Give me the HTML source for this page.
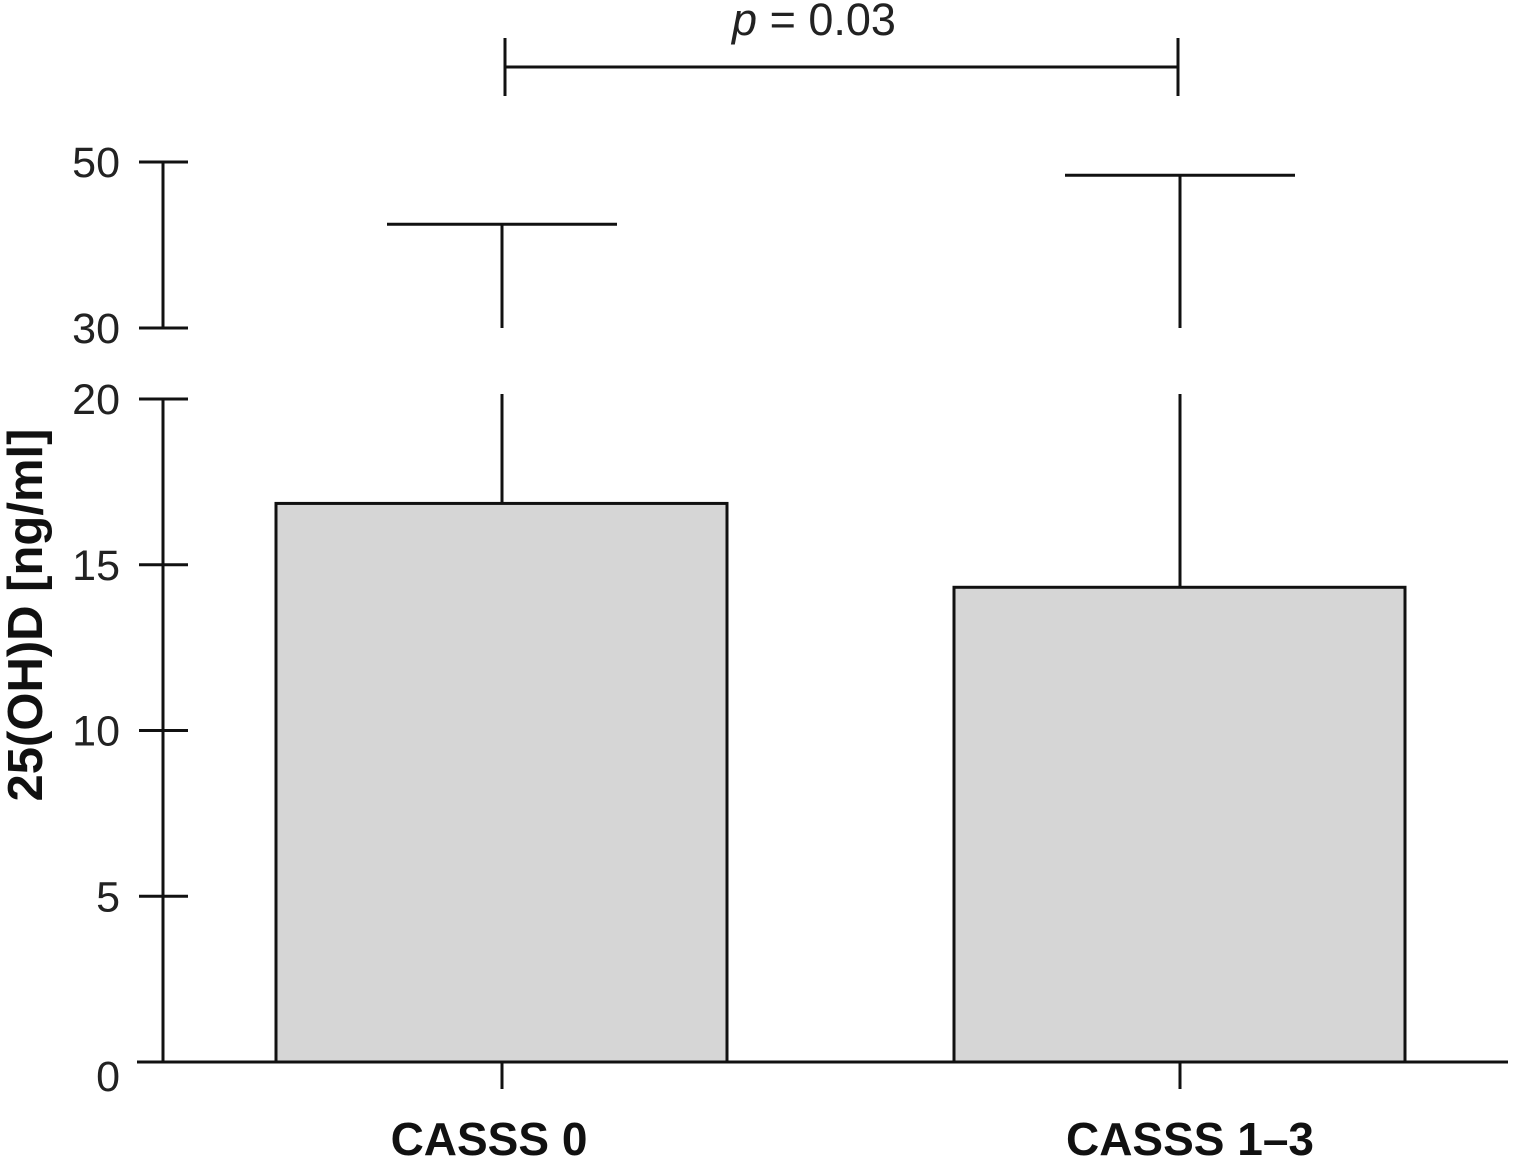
<!DOCTYPE html>
<html><head><meta charset="utf-8"><style>
html,body{margin:0;padding:0;background:#fff;}
svg{display:block;font-family:"Liberation Sans",sans-serif;}
</style></head><body>
<svg id="chart" width="1520" height="1158" viewBox="0 0 1520 1158"></svg>
<script>
const categories = ["CASSS 0", "CASSS 1\u20133"];
const means = [16.85, 14.32];
const upperErr = [42.5, 48.4];
const lowerTicks = [0, 5, 10, 15, 20];
const upperTicks = [30, 50];
const pLabel = "p";
const pValue = " = 0.03";

const NS = "http://www.w3.org/2000/svg";
const svg = document.getElementById('chart');
function yLow(v){ return 1062 - v * (663/20); }
function yHigh(v){ return 328 - (v - 30) * (166/20); }
function xc(i){ return 502 + i * 678; }
function mk(tag, attrs){ const e = document.createElementNS(NS, tag); for (const k in attrs) e.setAttribute(k, attrs[k]); svg.appendChild(e); return e; }
const sw = 3;

let e = mk('line',{x1:163,y1:yLow(0),x2:163,y2:yLow(20),stroke:'#111','stroke-width':sw});


e = mk('line',{x1:163,y1:yHigh(30),x2:163,y2:yHigh(50),stroke:'#111','stroke-width':sw});


e = mk('line',{x1:137,y1:1062,x2:1508,y2:1062,stroke:'#111','stroke-width':sw});



function tick(v, yy){
  let t = mk('line',{x1:(v===0?137:139),y1:yy,x2:(v===0?163:188),y2:yy,stroke:'#111','stroke-width':sw});
  
  
  let l = mk('text',{x:120,y:yy+15,'text-anchor':'end','font-size':43,fill:'#222'});
  l.textContent = v;
  
  
  if (v===0) l.setAttribute('y', yy+29);
}
lowerTicks.forEach(v=>tick(v, yLow(v)));
upperTicks.forEach(v=>tick(v, yHigh(v)));

categories.forEach((c,i)=>{
  const cx = xc(i), w = 451;
  const top = yLow(means[i]);
  let wl = mk('line',{x1:cx,y1:top,x2:cx,y2:yLow(20.15),stroke:'#111','stroke-width':sw});
  
  
  let wu = mk('line',{x1:cx,y1:yHigh(30),x2:cx,y2:yHigh(upperErr[i]),stroke:'#111','stroke-width':sw});
  
  
  let cap = mk('line',{x1:cx-115,y1:yHigh(upperErr[i]),x2:cx+115,y2:yHigh(upperErr[i]),stroke:'#111','stroke-width':sw});
  
  
  let r = mk('rect',{x:cx-226,y:top,width:w,height:1062-top,fill:'#d6d6d6',stroke:'#111','stroke-width':sw});
  
  
  let xt = mk('line',{x1:cx,y1:1062,x2:cx,y2:1089,stroke:'#111','stroke-width':sw});
  
  
  let lb = mk('text',{x:cx-13+i*23,y:1155,'text-anchor':'middle','font-size':46,'font-weight':'bold',fill:'#111'});
  lb.textContent = c;
  
  
});

let yt = mk('text',{x:0,y:0,transform:'translate(42,615) rotate(-90)','text-anchor':'middle','font-size':49,'font-weight':'bold',fill:'#111'});
yt.textContent = '25(OH)D [ng/ml]';



const x1 = xc(0)+3, x2 = xc(1)-2;
[['line',{x1:x1,y1:67,x2:x2,y2:67}],['line',{x1:x1,y1:38,x2:x1,y2:96}],['line',{x1:x2,y1:38,x2:x2,y2:96}]].forEach(([t,a])=>{
  a.stroke='#111'; a['stroke-width']=sw;
  let b = mk(t,a);
  
  
});
let pt = mk('text',{x:814,y:35,'text-anchor':'middle','font-size':45,fill:'#222'});
pt.innerHTML = '<tspan font-style="italic">'+pLabel+'</tspan>'+pValue;


</script>
</body></html>
